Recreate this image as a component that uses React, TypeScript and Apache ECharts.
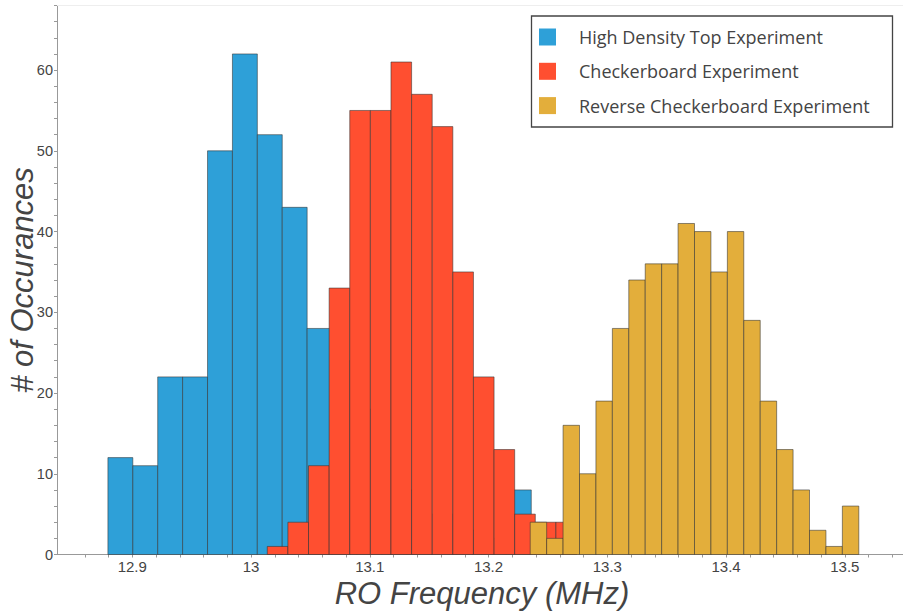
import React, { useEffect, useRef } from "react";
import * as echarts from "echarts";

// ---------- data ----------
const seriesNames = [
  "High Density Top Experiment",
  "Checkerboard Experiment",
  "Reverse Checkerboard Experiment",
];
const seriesColors = ["#2EA0D8", "#FF4F30", "#E3AE3B"];

// High Density Top: bins start 12.8795 MHz, width 0.02097 MHz
const blueBinStart = 12.8795;
const blueBinWidth = 0.02097;
const blueCounts = [12, 11, 22, 22, 50, 62, 52, 43, 28, 24, 18, 12, 8, 5, 3, 2, 8];

// Checkerboard: bins start 13.0137 MHz, width 0.01736 MHz
const redBinStart = 13.0137;
const redBinWidth = 0.01736;
const redCounts = [1, 4, 11, 33, 55, 55, 61, 57, 53, 35, 22, 13, 5, 4, 4];

// Reverse Checkerboard: bins start 13.2351 MHz, width 0.013834 MHz
const goldBinStart = 13.2351;
const goldBinWidth = 0.013834;
const goldCounts = [4, 2, 16, 10, 19, 28, 34, 36, 36, 41, 40, 35, 40, 29, 19, 13, 8, 3, 1, 6];

const xTickLabels = [12.9, 13, 13.1, 13.2, 13.3, 13.4, 13.5];
const yTickLabels = [0, 10, 20, 30, 40, 50, 60];

const X_MIN = 12.84;
const X_MAX = 13.549;
const Y_MAX = 68;

function toBins(start: number, width: number, counts: number[]) {
  return counts.map((c, i) => [start + i * width, start + (i + 1) * width, c]);
}

export default function App() {
  const ref = useRef<HTMLDivElement>(null);

  useEffect(() => {
    if (!ref.current) return;
    const chart = echarts.init(ref.current, null, { renderer: "svg" });

    const binSets = [
      toBins(blueBinStart, blueBinWidth, blueCounts),
      toBins(redBinStart, redBinWidth, redCounts),
      toBins(goldBinStart, goldBinWidth, goldCounts),
    ];

    const makeSeries = (idx: number) => ({
      type: "custom",
      name: seriesNames[idx],
      data: binSets[idx],
      encode: { x: [0, 1], y: 2 },
      itemStyle: { color: seriesColors[idx] },
      z: 2 + idx,
      renderItem: (params: any, api: any) => {
        const x0 = api.value(0);
        const x1 = api.value(1);
        const y = api.value(2);
        const pTop = api.coord([x0, y]);
        const pBot = api.coord([x1, 0]);
        return {
          type: "rect",
          shape: {
            x: pTop[0],
            y: pTop[1],
            width: pBot[0] - pTop[0],
            height: pBot[1] - pTop[1],
          },
          style: {
            fill: seriesColors[idx],
            stroke: "rgba(50,50,50,0.55)",
            lineWidth: 1,
          },
        };
      },
    });

    const tickFont = "'Liberation Sans', Arial, sans-serif";

    chart.setOption({
      animation: false,
      backgroundColor: "#ffffff",
      grid: {
        left: 61,
        right: 0,
        top: 5.5,
        bottom: 58.5,
        containLabel: false,
        outerBoundsMode: "none",
      },
      xAxis: {
        type: "value",
        min: X_MIN,
        max: X_MAX,
        interval: 0.02,
        name: "RO Frequency (MHz)",
        nameLocation: "middle",
        nameGap: 23,
        nameMoveOverlap: false,
        nameTextStyle: {
          fontFamily: tickFont,
          fontStyle: "italic",
          fontSize: 31,
          color: "#444",
        },
        axisLine: { show: true, lineStyle: { color: "#999", width: 1 } },
        axisTick: { show: true, length: 3, lineStyle: { color: "#999" } },
        splitLine: { show: false },
        axisLabel: {
          margin: 4,
          fontFamily: tickFont,
          fontSize: 15,
          color: "#444",
          showMinLabel: false,
          showMaxLabel: false,
          formatter: (v: number) => {
            const hit = xTickLabels.find((t) => Math.abs(t - v) < 1e-6);
            return hit === undefined ? "" : String(hit);
          },
        },
      },
      yAxis: {
        type: "value",
        min: 0,
        max: Y_MAX,
        interval: 2,
        offset: 4,
        name: "# of Occurances",
        nameLocation: "middle",
        nameGap: 19,
        nameMoveOverlap: false,
        nameTextStyle: {
          fontFamily: tickFont,
          fontStyle: "italic",
          fontSize: 31,
          color: "#444",
        },
        axisLine: { show: true, lineStyle: { color: "#999", width: 1 } },
        axisTick: { show: true, length: 3, lineStyle: { color: "#999" } },
        splitLine: { show: false },
        axisLabel: {
          margin: 4,
          fontFamily: tickFont,
          fontSize: 14.5,
          color: "#444",
          formatter: (v: number) => {
            const hit = yTickLabels.find((t) => Math.abs(t - v) < 1e-6);
            return hit === undefined ? "" : String(hit);
          },
        },
      },
      legend: {
        orient: "vertical",
        left: 539,
        top: 28,
        padding: 0,
        itemWidth: 17,
        itemHeight: 17,
        itemGap: 16.3,
        icon: "rect",
        itemStyle: { borderWidth: 0 },
        data: seriesNames,
        textStyle: {
          fontFamily: "'Open Sans', sans-serif",
          fontSize: 18,
          color: "#444",
          padding: [0, 0, 0, 18],
        },
        z: 10,
      },
      graphic: [
        {
          type: "line",
          shape: { x1: 57, y1: 5.5, x2: 903, y2: 5.5 },
          style: { stroke: "#eeeeee", lineWidth: 1 },
          z: 1,
        },
        {
          type: "line",
          shape: { x1: 57, y1: 554.5, x2: 61, y2: 554.5 },
          style: { stroke: "#999", lineWidth: 1 },
          z: 1,
        },
        {
          type: "rect",
          shape: { x: 531.5, y: 16, width: 361, height: 111 },
          style: { fill: "#ffffff", stroke: "#444", lineWidth: 1.3 },
          z: 5,
        },
      ],
      series: [makeSeries(0), makeSeries(1), makeSeries(2)],
    });

    return () => chart.dispose();
  }, []);

  return (
    <div
      ref={ref}
      style={{ position: "fixed", left: 0, top: 0, width: 903, height: 613 }}
    />
  );
}
